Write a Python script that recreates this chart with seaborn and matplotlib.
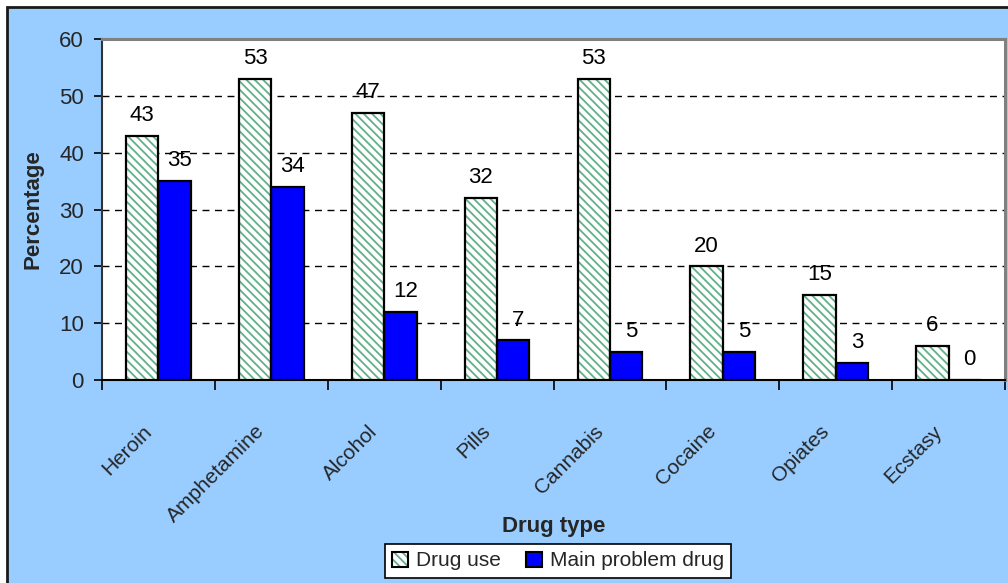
import matplotlib
matplotlib.use("Agg")
import matplotlib.pyplot as plt
from matplotlib.patches import Rectangle, Patch
from matplotlib.transforms import ScaledTranslation
from matplotlib.ticker import FixedLocator, NullFormatter
import seaborn as sns
import pandas as pd

# Share of clients (%) by drug type
drugs = ["Heroin", "Amphetamine", "Alcohol", "Pills", "Cannabis",
         "Cocaine", "Opiates", "Ecstasy"]
drug_use = [43, 53, 47, 32, 53, 20, 15, 6]
main_problem = [35, 34, 12, 7, 5, 5, 3, 0]
series = ["Drug use", "Main problem drug"]
y_ticks = [0, 10, 20, 30, 40, 50, 60]

df = pd.DataFrame({
    "Drug type": drugs * 2,
    "Percentage": drug_use + main_problem,
    "Series": [series[0]] * len(drugs) + [series[1]] * len(drugs),
})

sns.set_theme(style="white")
plt.rcParams["font.family"] = ["Liberation Sans", "DejaVu Sans"]
plt.rcParams["hatch.linewidth"] = 1.3

BG = "#99CCFF"
BLUE = "#0000FF"
HATCH_GREEN = "#62B088"
HATCH = "\\\\\\\\"

fig = plt.figure(figsize=(10.08, 5.83), dpi=100)
fig.patch.set_facecolor("white")
# light blue chart area with a dark frame
fig.add_artist(Rectangle((7 / 1008, -0.5), 2.0, 1.5 - 7 / 583,
                         transform=fig.transFigure, facecolor=BG,
                         edgecolor="#1a1a1a", lw=2, zorder=-5))

ax = fig.add_axes([102 / 1008, 1 - 380 / 583, 903 / 1008, 341 / 583])
ax.set_facecolor("white")

sns.barplot(data=df, x="Drug type", y="Percentage", hue="Series",
            hue_order=series, order=drugs,
            palette=["white", BLUE], saturation=1, width=0.573, gap=0,
            edgecolor="black", linewidth=1.6, ax=ax, legend=False,
            zorder=3)

# hatch the "Drug use" bars in green, then re-draw their black outline
for p in ax.containers[0]:
    p.set_facecolor("white")
    p.set_edgecolor(HATCH_GREEN)
    p.set_hatch(HATCH)
    p.set_linewidth(0)
    ax.add_patch(Rectangle(p.get_xy(), p.get_width(), p.get_height(),
                           fill=False, edgecolor="black", lw=1.6, zorder=4))

# value labels above each bar
for cont, vals, dx in [(ax.containers[0], drug_use, 0),
                       (ax.containers[1], main_problem, 5)]:
    for p, v in zip(cont, vals):
        ax.annotate(f"{v}", (p.get_x() + p.get_width() / 2, v),
                    xytext=(dx * 0.72, 14.5), textcoords="offset points",
                    ha="center", va="center", fontsize=16, color="black",
                    zorder=5)

ax.set_ylim(0, 60)
ax.set_xlim(-0.5, len(drugs) - 0.5)
ax.set_yticks(y_ticks)
ax.yaxis.grid(True, linestyle=(0, (5, 4)), color="black", lw=1.0, zorder=0)
ax.xaxis.grid(False)
ax.set_axisbelow(True)

ax.tick_params(axis="y", direction="out", length=6, width=1.2,
               color="black", labelsize=16, pad=7, left=True)
# category separators as minor ticks, labels at the category centres
ax.xaxis.set_minor_locator(FixedLocator([i - 0.5 for i in range(len(drugs) + 1)]))
ax.xaxis.set_minor_formatter(NullFormatter())
ax.tick_params(axis="x", which="minor", direction="out", length=7,
               width=1.2, color="black", bottom=True)
ax.tick_params(axis="x", which="major", length=0, pad=30, labelsize=15)
offset = ScaledTranslation(-16 / 100, 0, fig.dpi_scale_trans)
for lab in ax.get_xticklabels():
    lab.set_rotation(45)
    lab.set_ha("right")
    lab.set_va("top")
    lab.set_rotation_mode("anchor")
    lab.set_transform(lab.get_transform() + offset)

for side in ["top", "right"]:
    ax.spines[side].set_color("#808080")
    ax.spines[side].set_linewidth(2.2)
for side in ["left", "bottom"]:
    ax.spines[side].set_color("black")
    ax.spines[side].set_linewidth(1.5)
ax.spines["left"].set_color("#333333")

ax.set_ylabel("Percentage", fontsize=16, fontweight="bold")
ax.yaxis.set_label_coords(-0.0764, 0.5)
ax.yaxis.label.set_va("center")
ax.set_xlabel("Drug type", fontsize=16, fontweight="bold")
ax.xaxis.set_label_coords(0.5, -0.431)
ax.xaxis.label.set_va("center")

handles = [Patch(facecolor="white", edgecolor=HATCH_GREEN, hatch=HATCH, lw=0),
           Patch(facecolor=BLUE, edgecolor="black", lw=1.5)]
outline = Patch(facecolor="none", edgecolor="black", lw=1.5)
leg = fig.legend([(handles[0], outline), handles[1]], series,
                 loc="center", bbox_to_anchor=(558 / 1008, 1 - 561 / 583),
                 ncol=2, fontsize=15, frameon=True, fancybox=False,
                 edgecolor="black", facecolor="white", framealpha=1,
                 handlelength=0.75, handleheight=0.75, handletextpad=0.4,
                 columnspacing=1.2, borderpad=0.35)
leg.get_frame().set_linewidth(1.2)

fig.savefig("out.png", dpi=100)
